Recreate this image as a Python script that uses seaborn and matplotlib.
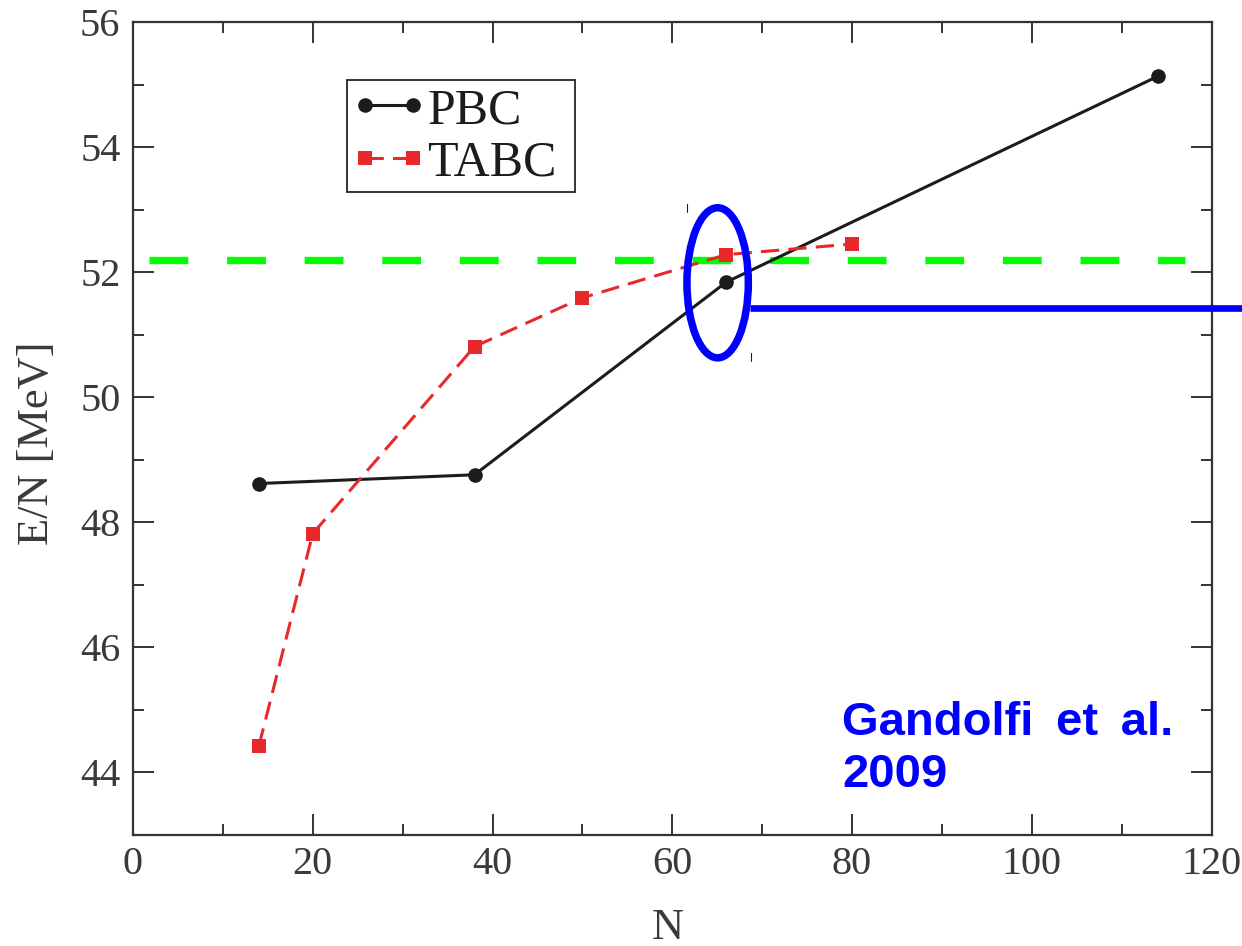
import numpy as np
import pandas as pd
import seaborn as sns
import matplotlib
matplotlib.use("Agg")
import matplotlib.pyplot as plt
from matplotlib.patches import Ellipse, Rectangle
from matplotlib.transforms import IdentityTransform
from matplotlib.ticker import MultipleLocator

# Energy per particle vs particle number for two boundary conditions
pbc_n = [14, 38, 66, 114]
pbc_e = [48.62, 48.76, 51.84, 55.13]
tabc_n = [14, 20, 38, 50, 66, 80]
tabc_e = [44.42, 47.82, 50.81, 51.59, 52.28, 52.45]

# Thermodynamic-limit reference level
ref_e = 52.20
ref_span = [1.8, 117.1]

# Highlighted point (N=66) and annotation text
highlight_n = 65.05
highlight_e = 51.83
pointer_e = 51.43
pointer_span = [68.7, 124.0]
credit_lines = ["Gandolfi\u2009 et\u2009 al.", "2009"]

x_ticks = [0, 20, 40, 60, 80, 100, 120]
y_ticks = [44, 46, 48, 50, 52, 54, 56]

sns.set_theme(style="ticks")
plt.rcParams["font.family"] = ["Liberation Serif", "DejaVu Serif"]
plt.rcParams["text.color"] = "#333333"

W, H = 1242, 946
fig = plt.figure(figsize=(W / 100, H / 100), dpi=100)
ax = fig.add_axes([133 / W, 1 - 835 / H, (1211.5 - 133) / W, (835 - 22) / H])

pbc = pd.DataFrame({"N": pbc_n, "E": pbc_e})
tabc = pd.DataFrame({"N": tabc_n, "E": tabc_e})

ax.plot(ref_span, [ref_e, ref_e], color="#00ff00", lw=5.3,
        linestyle=(0, (5.27, 5.27)), solid_capstyle="butt", zorder=1)

sns.lineplot(data=pbc, x="N", y="E", ax=ax, color="#1c1c1c", lw=2.2,
             marker="o", markersize=10.5, markeredgewidth=0,
             sort=False, estimator=None, label="PBC", zorder=3)
sns.lineplot(data=tabc, x="N", y="E", ax=ax, color="#e8292b", lw=2.2,
             linestyle=(0, (6, 3)), marker="s", markersize=9.5,
             markeredgewidth=0, sort=False, estimator=None,
             label="TABC", zorder=4)

ax.set_xlim(0, 120)
ax.set_ylim(43.0, 56.0)
ax.set_xticks(x_ticks)
ax.set_yticks(y_ticks)
ax.xaxis.set_minor_locator(MultipleLocator(10))
ax.yaxis.set_minor_locator(MultipleLocator(1))
ax.tick_params(which="both", direction="in", top=True, right=True,
               color="#333333", width=1.4, labelcolor="#3a3a3a",
               labelsize=29)
ax.tick_params(which="major", length=15)
ax.tick_params(which="minor", length=7.7)
ax.tick_params(axis="y", pad=9)
ax.tick_params(axis="x", pad=8)
for s in ax.spines.values():
    s.set_color("#333333")
    s.set_linewidth(1.6)

ax.set_xlabel("N", fontsize=32, color="#3a3a3a")
ax.set_ylabel("E/N [MeV]", fontsize=32, color="#3a3a3a")
ax.xaxis.set_label_coords((668 - 133) / 1078.5, (835 - 908) / 813)
ax.yaxis.set_label_coords((57 - 133) / 1078.5, (835 - 443) / 813)

leg = ax.legend(loc="upper left", bbox_to_anchor=(347 / W, 1 - 85 / H),
                bbox_transform=fig.transFigure, borderaxespad=0,
                fontsize=36, frameon=False, numpoints=2, handlelength=1.56,
                handletextpad=0.0, borderpad=0.05, labelspacing=0.12)
for t in leg.get_texts():
    t.set_color("#1c1c1c")

# Legend frame: wider padding at the right than at top/bottom
fig.canvas.draw()
bb = leg.get_window_extent()
fig.add_artist(Rectangle((bb.x0, bb.y0 - 3), bb.width + 16, bb.height + 8,
                         transform=IdentityTransform(), fill=False,
                         edgecolor="#333333", lw=1.4, zorder=5))

# Highlight ring, pointer line and credit
ax.add_patch(Ellipse((highlight_n, highlight_e), 6.83, 2.40, fill=False,
                     edgecolor="#0000ff", lw=5.4, zorder=6, clip_on=False))
ax.plot(pointer_span, [pointer_e, pointer_e], color="#0000ff", lw=4.8,
        solid_capstyle="butt", zorder=6, clip_on=False)
for (px, y0, y1) in [(687, 204, 212), (751, 353, 361)]:
    fig.add_artist(plt.Line2D([px / W, px / W], [1 - y0 / H, 1 - y1 / H],
                              color="#0000ff", lw=0.8))

for line, base in zip(credit_lines, [735, 787]):
    fig.text(842 / W, 1 - base / H, line, color="#0000ff", fontsize=34,
             fontweight="bold", family=["Liberation Sans", "DejaVu Sans"],
             ha="left", va="baseline")

fig.savefig("out.png", dpi=100)
